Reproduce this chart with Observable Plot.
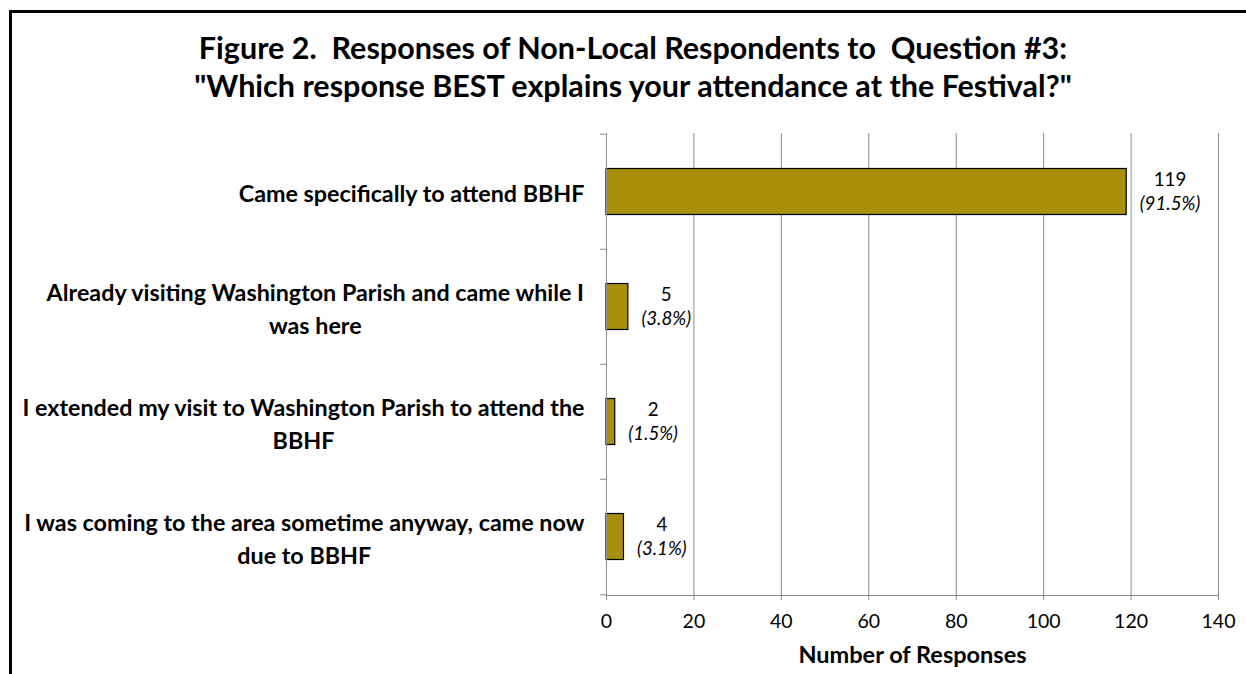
<!DOCTYPE html>
<html><head><meta charset="utf-8">
<script src="https://cdn.jsdelivr.net/npm/d3@7"></script>
<script src="https://cdn.jsdelivr.net/npm/@observablehq/plot@0.6"></script>
<style>
html,body{margin:0;padding:0;background:#fff;width:1246px;height:674px;overflow:hidden;position:relative;}
#border{position:absolute;left:9px;top:10px;width:1400px;height:800px;border-left:3px solid #000;border-top:3px solid #000;}
#title{position:absolute;left:0;top:28px;width:1266px;text-align:center;font-family:Lato,sans-serif;font-weight:bold;font-size:30.5px;line-height:38px;color:#000;white-space:pre;}
#chart{position:absolute;left:0;top:120px;}
.vlab tspan:nth-child(2){font-style:italic;}
</style></head>
<body>
<div id="border"></div>
<div id="title">Figure 2.  Responses of Non-Local Respondents to  Question #3:<br>"Which response BEST explains your attendance at the Festival?"</div>
<div id="chart"></div>
<script>
const categories = [
  "Came specifically to attend BBHF",
  "Already visiting Washington Parish and came while I was here",
  "I extended my visit to Washington Parish to attend the BBHF",
  "I was coming to the area sometime anyway, came now due to BBHF"
];
const categoryLabels = [
  "Came specifically to attend BBHF",
  "Already visiting Washington Parish and came while I\nwas here",
  "I extended my visit to Washington Parish to attend the\nBBHF",
  "I was coming to the area sometime anyway, came now\ndue to BBHF"
];
const counts = [119, 5, 2, 4];
const percents = [91.5, 3.8, 1.5, 3.1];
const xTicks = [0, 20, 40, 60, 80, 100, 120, 140];
const xLabel = "Number of Responses";

const data = categories.map((c, i) => ({category: c, label: categoryLabels[i], count: counts[i], pct: percents[i]}));

const W = 1246, H = 554, mT = 13, mB = 79, mL = 606, mR = 28;
const bandH = (H - mT - mB) / categories.length;
const gray = "#8c8c8c";
const font = "Lato, sans-serif";

const chart = Plot.plot({
  width: W, height: H,
  marginTop: mT, marginBottom: mB, marginLeft: mL, marginRight: mR,
  style: {fontFamily: font, color: "#000", background: "transparent"},
  x: {domain: [0, 140]},
  y: {domain: categories, padding: 0},
  marks: [
    Plot.gridX({ticks: xTicks.slice(1), stroke: gray, strokeOpacity: 1, strokeWidth: 1}),
    Plot.barX(data, {x: "count", y: "category", fill: "#a8900c", stroke: "#000", strokeWidth: 1.2, insetTop: 34.5, insetBottom: 34.5}),
    Plot.ruleX([0], {stroke: gray, strokeWidth: 1}),
    Plot.frame({anchor: "bottom", stroke: gray, strokeWidth: 1}),
    Plot.axisX({ticks: xTicks, tickSize: 5, tickPadding: 14, fontSize: 19.5, stroke: gray, fill: "#000", label: null}),
    Plot.axisY({tickSize: 6, tickFormat: () => "", stroke: gray, dy: -bandH / 2, label: null}),
    Plot.axisY({ticks: [categories[categories.length - 1]], tickSize: 6, tickFormat: () => "", stroke: gray, dy: bandH / 2, label: null}),
    Plot.text(data, {y: "category", text: "label", frameAnchor: "left", dx: -22, textAnchor: "end", lineHeight: 1.4, fontSize: 23.3, fontWeight: "bold", fill: "#000", className: "clab"}),
    Plot.text(data, {x: "count", y: "category", text: d => `${d.count}\n(${d.pct.toFixed(1)}%)`, textAnchor: "start", dx: 13, dy: -2, lineHeight: 1.3, fontSize: 18.7, fill: "#000", className: "vlab"}),
    Plot.text([xLabel], {frameAnchor: "bottom", dy: 67, fontSize: 23.5, fontWeight: "bold", fill: "#000"})
  ]
});
document.getElementById("chart").appendChild(chart);

function centerBlock(cls, sign) {
  chart.querySelectorAll("." + cls + " text").forEach(t => {
    const w = t.getBBox().width;
    t.setAttribute("text-anchor", "middle");
    const tr = t.getAttribute("transform") || "";
    t.setAttribute("transform", tr + ` translate(${sign * w / 2},0)`);
  });
}
centerBlock("clab", -1);
centerBlock("vlab", 1);
</script>
</body></html>
